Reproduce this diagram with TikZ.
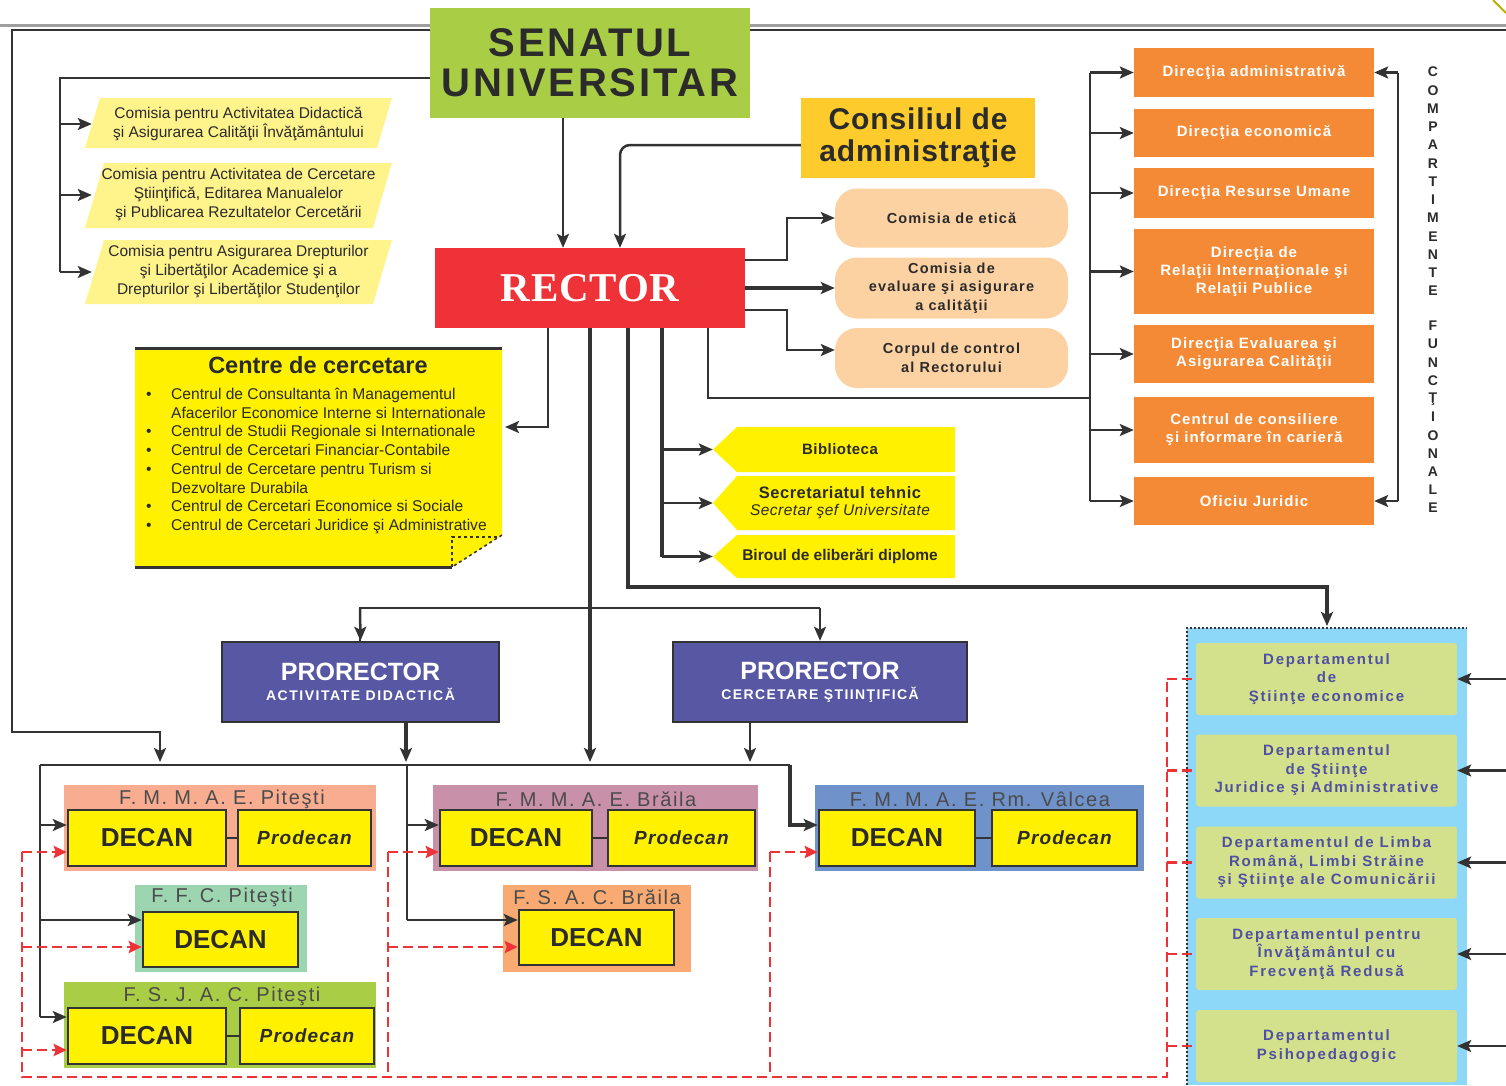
\documentclass[tikz,border=0pt]{standalone}
\usepackage{fontspec}
\setmainfont{Liberation Sans}
\newfontfamily\serifb{Liberation Serif}
\usetikzlibrary{arrows.meta}
\definecolor{lnc}{HTML}{333333}
\definecolor{txt}{HTML}{2B2B2B}
\definecolor{senatc}{HTML}{A9CE46}
\definecolor{rectorc}{HTML}{EE3237}
\definecolor{consc}{HTML}{FDCB2C}
\definecolor{parc}{HTML}{FFF38C}
\definecolor{peachc}{HTML}{FCD2A2}
\definecolor{orc}{HTML}{F58A36}
\definecolor{yelc}{HTML}{FFF100}
\definecolor{proc}{HTML}{5757A3}
\definecolor{salc}{HTML}{F8AC90}
\definecolor{ffcc}{HTML}{9DD5B1}
\definecolor{mauvc}{HTML}{C990AA}
\definecolor{fsacc}{HTML}{F9AA72}
\definecolor{valc}{HTML}{7092CB}
\definecolor{contc}{HTML}{8DD8F8}
\definecolor{deptc}{HTML}{D4E18C}
\definecolor{depttxt}{HTML}{5050A2}
\definecolor{redc}{HTML}{EE3338}
\tikzset{
  ln/.style={draw=lnc, line width=2.5pt},
  arr/.style={ln, -{Stealth[length=14pt,width=12pt,inset=3pt]}},
  thk/.style={line width=4.5pt},
  rd/.style={draw=redc, line width=2.6pt, dash pattern=on 10pt off 5pt},
  rarr/.style={rd, -{Stealth[length=13pt,width=12pt,inset=2pt,fill=redc]}},
  plain/.style={inner sep=0pt, align=center},
  orbox/.style={plain, fill=orc, minimum width=240, text=white, font=\bfseries\fontsize{15}{18}\selectfont\addfontfeature{LetterSpace=7}},
  peach/.style={plain, fill=peachc, minimum width=233, rounded corners=22pt, text=txt, font=\bfseries\fontsize{14.5}{18.5}\selectfont\addfontfeature{LetterSpace=8}},
  partxt/.style={plain, text=txt, font=\fontsize{15.5}{19}\selectfont},
  pent/.style={plain, minimum width=254, text=txt, font=\bfseries\fontsize{15}{18}\selectfont\addfontfeature{LetterSpace=3}},
  prbox/.style={plain, fill=proc, draw=lnc, line width=2.5pt, minimum height=80, text=white},
  facbg/.style={plain, minimum height=86},
  factit/.style={plain, text=txt!85, font=\fontsize{20}{22}\selectfont\addfontfeature{LetterSpace=8}},
  decan/.style={plain, fill=yelc, draw=lnc, line width=2.5pt, minimum height=56, text=txt, font=\bfseries\fontsize{26}{28}\selectfont},
  prodecan/.style={plain, fill=yelc, draw=lnc, line width=2.5pt, minimum height=56, text=txt, font=\bfseries\itshape\fontsize{19}{22}\selectfont\addfontfeature{LetterSpace=6}},
  dept/.style={plain, fill=deptc, minimum width=261, minimum height=72, rounded corners=3pt, text=depttxt, font=\bfseries\fontsize{15}{18.5}\selectfont\addfontfeature{LetterSpace=12}},
  vlet/.style={plain, text=txt, font=\bfseries\fontsize{14}{14}\selectfont}
}
\begin{document}
\begin{tikzpicture}[x=1pt,y=-1pt]
\useasboundingbox (0,0) rectangle (1506,1085);
% top lines and frame
\draw[gray!75, line width=3pt] (0,25) -- (1506,25);
\draw[olive!60!yellow, line width=2pt] (1493,0) -- (1506,13);
\draw[arr] (1506,30) -- (12,30) -- (12,732) -- (160,732) -- (160,762);

% ---------- top nodes
\node[plain, fill=senatc, minimum width=320, minimum height=110, text=txt,
  font=\bfseries\fontsize{40}{40}\selectfont\addfontfeature{LetterSpace=7}] (senat) at (590,63) {SENATUL\\UNIVERSITAR};
\node[plain, fill=rectorc, minimum width=310, minimum height=80, text=white,
  font=\serifb\bfseries\fontsize{41}{44}\selectfont\addfontfeature{LetterSpace=2}] (rector) at (590,288) {RECTOR};
\node[plain, fill=consc, minimum width=234, minimum height=80, text=txt,
  font=\bfseries\fontsize{30}{32}\selectfont\addfontfeature{LetterSpace=3}] (cons) at (918,138) {Consiliul de\\administraţie};

% parallelograms
\fill[parc] (85,148) -- (100,98) -- (392,98) -- (377,148) -- cycle;
\fill[parc] (85,228) -- (104,163) -- (392,163) -- (373,228) -- cycle;
\fill[parc] (85,304) -- (104,240) -- (392,240) -- (373,304) -- cycle;
\node[partxt, minimum width=293] (p1) at (238.5,124) {Comisia pentru Activitatea Didactică\\şi Asigurarea Calităţii Învăţământului};
\node[partxt, minimum width=293] (p2) at (238.5,195) {Comisia pentru Activitatea de Cercetare\\Ştiinţifică, Editarea Manualelor\\şi Publicarea Rezultatelor Cercetării};
\node[partxt, minimum width=293] (p3) at (238.5,272) {Comisia pentru Asigurarea Drepturilor\\şi Libertăţilor Academice şi a\\Drepturilor şi Libertăţilor Studenţilor};

% peach
\node[peach, minimum height=59] (etica) at (951.5,218) {Comisia de etică};
\node[peach, minimum height=61] (eval) at (951.5,288) {Comisia de\\evaluare şi asigurare\\a calităţii};
\node[peach, minimum height=60] (corp) at (951.5,358) {Corpul de control\\al Rectorului};

% orange
\node[orbox, minimum height=49] (adm) at (1254,72.5) {Direcţia administrativă};
\node[orbox, minimum height=48] (eco) at (1254,133) {Direcţia economică};
\node[orbox, minimum height=50] (ru) at (1254,193) {Direcţia Resurse Umane};
\node[orbox, minimum height=85] (ri) at (1254,271.5) {Direcţia de\\Relaţii Internaţionale şi\\Relaţii Publice};
\node[orbox, minimum height=58] (evc) at (1254,354) {Direcţia Evaluarea şi\\Asigurarea Calităţii};
\node[orbox, minimum height=66] (cons2) at (1254,430) {Centrul de consiliere\\şi informare în carieră};
\node[orbox, minimum height=48] (ofi) at (1254,501) {Oficiu Juridic};

% vertical letters
\foreach \l [count=\i] in {C,O,M,P,A,R,T,I,M,E,N,T,E}
  \node[vlet] (va\i) at (1433,{72+18.25*(\i-1)}) {\l};
\foreach \l [count=\i] in {F,U,N,C,Ţ,I,O,N,A,L,E}
  \node[vlet] (vb\i) at (1433,{326+18.2*(\i-1)}) {\l};

% centre de cercetare
\fill[yelc] (135,348) -- (502,348) -- (502,535) -- (452,567) -- (135,567) -- cycle;
\draw[lnc, line width=3pt] (135,348) -- (502,348);
\draw[lnc, line width=3pt] (135,567) -- (452,567);
\draw[lnc, line width=1.5pt, dashed] (452,567) -- (452,537) -- (500,537);
\draw[lnc, line width=1.5pt, dashed] (502,535) -- (452,567);
\node[plain, text=txt, font=\bfseries\fontsize{23.5}{26}\selectfont] (cctit) at (318,365) {Centre de cercetare};
\node[plain, anchor=north west, align=left, text=txt, font=\fontsize{15.6}{18.7}\selectfont] (cclist) at (146,388)
{\makebox[25pt][l]{•}Centrul de Consultanta în Managementul\\
\hspace*{25pt}Afacerilor Economice Interne si Internationale\\
\makebox[25pt][l]{•}Centrul de Studii Regionale si Internationale\\
\makebox[25pt][l]{•}Centrul de Cercetari Financiar-Contabile\\
\makebox[25pt][l]{•}Centrul de Cercetare pentru Turism si\\
\hspace*{25pt}Dezvoltare Durabila\\
\makebox[25pt][l]{•}Centrul de Cercetari Economice si Sociale\\
\makebox[25pt][l]{•}Centrul de Cercetari Juridice şi Administrative};

% pentagons
\fill[yelc] (713,449.5) -- (737,427) -- (955,427) -- (955,472) -- (737,472) -- cycle;
\fill[yelc] (713,503) -- (737,476) -- (955,476) -- (955,530) -- (737,530) -- cycle;
\fill[yelc] (713,556.5) -- (737,535) -- (955,535) -- (955,578) -- (737,578) -- cycle;
\node[pent] (bib) at (840,449.5) {Biblioteca};
\node[pent, font=\bfseries\fontsize{16.5}{18}\selectfont\addfontfeature{LetterSpace=3}] (sec) at (840,503) {Secretariatul tehnic\\[-1pt]{\mdseries\itshape\fontsize{15.5}{16}\selectfont Secretar şef Universitate}};
\node[pent, font=\bfseries\fontsize{15.5}{18}\selectfont] (bir) at (840,556.5) {Biroul de eliberări diplome};

% prorectors
\node[prbox, minimum width=277] (pr1) at (360.5,682) {{\bfseries\fontsize{25}{26}\selectfont PRORECTOR}\\[6pt]{\bfseries\fontsize{14}{16}\selectfont\addfontfeature{LetterSpace=11}ACTIVITATE DIDACTICĂ}};
\node[prbox, minimum width=294] (pr2) at (820,682) {{\bfseries\fontsize{25}{26}\selectfont PRORECTOR}\\[6pt]{\bfseries\fontsize{14}{16}\selectfont\addfontfeature{LetterSpace=10}CERCETARE ŞTIINŢIFICĂ}};

% faculties
\node[facbg, fill=salc, minimum width=312] (fP) at (220,828) {};
\node[factit] (tP) at (222,799) {F. M. M. A. E. Piteşti};
\node[decan, minimum width=158] (dP) at (147,838) {DECAN};
\node[prodecan, minimum width=133] (prP) at (304.5,838) {Prodecan};

\node[facbg, fill=ffcc, minimum width=172, minimum height=87] (fF) at (221,928.5) {};
\node[factit] (tF) at (222,897) {F. F. C. Piteşti};
\node[decan, minimum width=155, minimum height=55] (dF) at (220.5,939.5) {DECAN};

\node[facbg, fill=senatc, minimum width=312] (fJ) at (220,1025) {};
\node[factit] (tJ) at (222,996) {F. S. J. A. C. Piteşti};
\node[decan, minimum width=158] (dJ) at (147,1036) {DECAN};
\node[prodecan, minimum width=134] (prJ) at (307,1036) {Prodecan};

\node[facbg, fill=mauvc, minimum width=325] (fB) at (595.5,828) {};
\node[factit] (tB) at (596,799) {F. M. M. A. E. Brăila};
\node[decan, minimum width=152] (dB) at (516,838) {DECAN};
\node[prodecan, minimum width=147] (prB) at (681.5,838) {Prodecan};

\node[facbg, fill=fsacc, minimum width=188, minimum height=87] (fS) at (597,928.5) {};
\node[factit] (tS) at (597,897) {F. S. A. C. Brăila};
\node[decan, minimum width=155, minimum height=55] (dS) at (596.5,937.5) {DECAN};

\node[facbg, fill=valc, minimum width=329] (fV) at (979.5,828) {};
\node[factit] (tV) at (980,799) {F. M. M. A. E. Rm. Vâlcea};
\node[decan, minimum width=156] (dV) at (897,838) {DECAN};
\node[prodecan, minimum width=145] (prV) at (1064.5,838) {Prodecan};

\draw[ln] (dP.east) -- (prP.west);
\draw[ln] (dJ.east) -- (prJ.west);
\draw[ln] (dB.east) -- (prB.west);
\draw[ln] (dV.east) -- (prV.west);

% departments container
\fill[contc] (1187,628) rectangle (1467,1085);
\draw[lnc, line width=2pt, dotted] (1187,1085) -- (1187,628) -- (1467,628);
\node[dept] (d1) at (1326.5,679) {Departamentul\\de\\Ştiinţe economice};
\node[dept] (d2) at (1326.5,770.5) {Departamentul\\de Ştiinţe\\Juridice şi Administrative};
\node[dept] (d3) at (1326.5,862.5) {Departamentul de Limba\\Română, Limbi Străine\\şi Ştiinţe ale Comunicării};
\node[dept] (d4) at (1326.5,954) {Departamentul pentru\\Învăţământul cu\\Frecvenţă Redusă};
\node[dept] (d5) at (1326.5,1046) {Departamentul\\Psihopedagogic};

% ---------- connectors
\draw[arr] (563,0 |- senat.south) -- (563,0 |- rector.north);
\draw[arr, rounded corners=10pt] (cons.west |- 0,145) -- (620,145) -- (620,0 |- rector.north);
\draw[ln] (senat.west |- 0,78) -- (60,78) -- (60,272);
\draw[arr] (60,0 |- p1.west) -- (p1.west);
\draw[arr] (60,0 |- p2.west) -- (p2.west);
\draw[arr] (60,0 |- p3.west) -- (p3.west);

\draw[arr] (rector.east |- 0,260) -- (787,260) -- (787,0 |- etica.west) -- (etica.west);
\draw[arr, thk] (rector.east |- 0,288) -- (eval.west);
\draw[arr] (rector.east |- 0,310) -- (787,310) -- (787,350) -- (corp.west |- 0,350);

\draw[ln] (708,0 |- rector.south) -- (708,398) -- (1090,398);
\draw[ln] (1090,72.5) -- (1090,501);
\foreach \n in {adm,eco,ru,ri,evc,cons2,ofi}
  \draw[arr] (1090,0 |- \n.west) -- (\n.west);
\draw[ln] (1398,72.5) -- (1398,501);
\draw[arr] (1398,0 |- adm.east) -- (adm.east);
\draw[arr] (1398,0 |- ofi.east) -- (ofi.east);

\draw[arr] (548,0 |- rector.south) -- (548,427) -- (505,427);
\draw[ln, thk] (662,0 |- rector.south) -- (662,556.5);
\draw[arr] (662,0 |- bib.west) -- (bib.west);
\draw[arr] (662,0 |- sec.west) -- (sec.west);
\draw[arr] (662,0 |- bir.west) -- (bir.west);
\draw[arr, thk] (628,0 |- rector.south) -- (628,587) -- (1327,587) -- (1327,626);

\draw[arr, thk] (590,0 |- rector.south) -- (590,762);
\draw[ln] (360,642) -- (360,608) -- (820,608);
\draw[arr] (360,608) -- (pr1.north);
\draw[arr] (820,608) -- (pr2.north);
\draw[arr, line width=3.5pt] (406,0 |- pr1.south) -- (406,762);
\draw[arr] (750,0 |- pr2.south) -- (750,762);

\draw[ln] (40,765) -- (790,765);
\draw[arr, line width=4pt] (790,765) -- (790,825) -- (dV.west |- 0,825);
\draw[ln] (40,765) -- (40,1017);
\draw[arr] (40,825) -- (dP.west |- 0,825);
\draw[arr] (40,920) -- (dF.west |- 0,920);
\draw[arr] (40,1017) -- (dJ.west |- 0,1017);
\draw[ln] (407,765) -- (407,920);
\draw[arr] (407,825) -- (dB.west |- 0,825);
\draw[arr] (407,920) -- (dS.west |- 0,920);

% red dashed
\draw[rd] (22,852) -- (22,1077) -- (1167,1077) -- (1167,679);
\draw[rd] (388,852) -- (388,1077);
\draw[rd] (770,852) -- (770,1077);
\draw[rarr] (22,852) -- (dP.west |- 0,852);
\draw[rarr] (22,947) -- (dF.west |- 0,947);
\draw[rarr] (22,1050) -- (dJ.west |- 0,1050);
\draw[rarr] (388,852) -- (dB.west |- 0,852);
\draw[rarr] (388,947) -- (dS.west |- 0,947);
\draw[rarr] (770,852) -- (dV.west |- 0,852);
\foreach \n in {d1,d2,d3,d4,d5}
  \draw[rd] (1167,0 |- \n.west) -- (\n.west);
\foreach \n in {d1,d2,d3,d4,d5}
  \draw[arr] (1506,0 |- \n.east) -- (\n.east);
\end{tikzpicture}
\end{document}
